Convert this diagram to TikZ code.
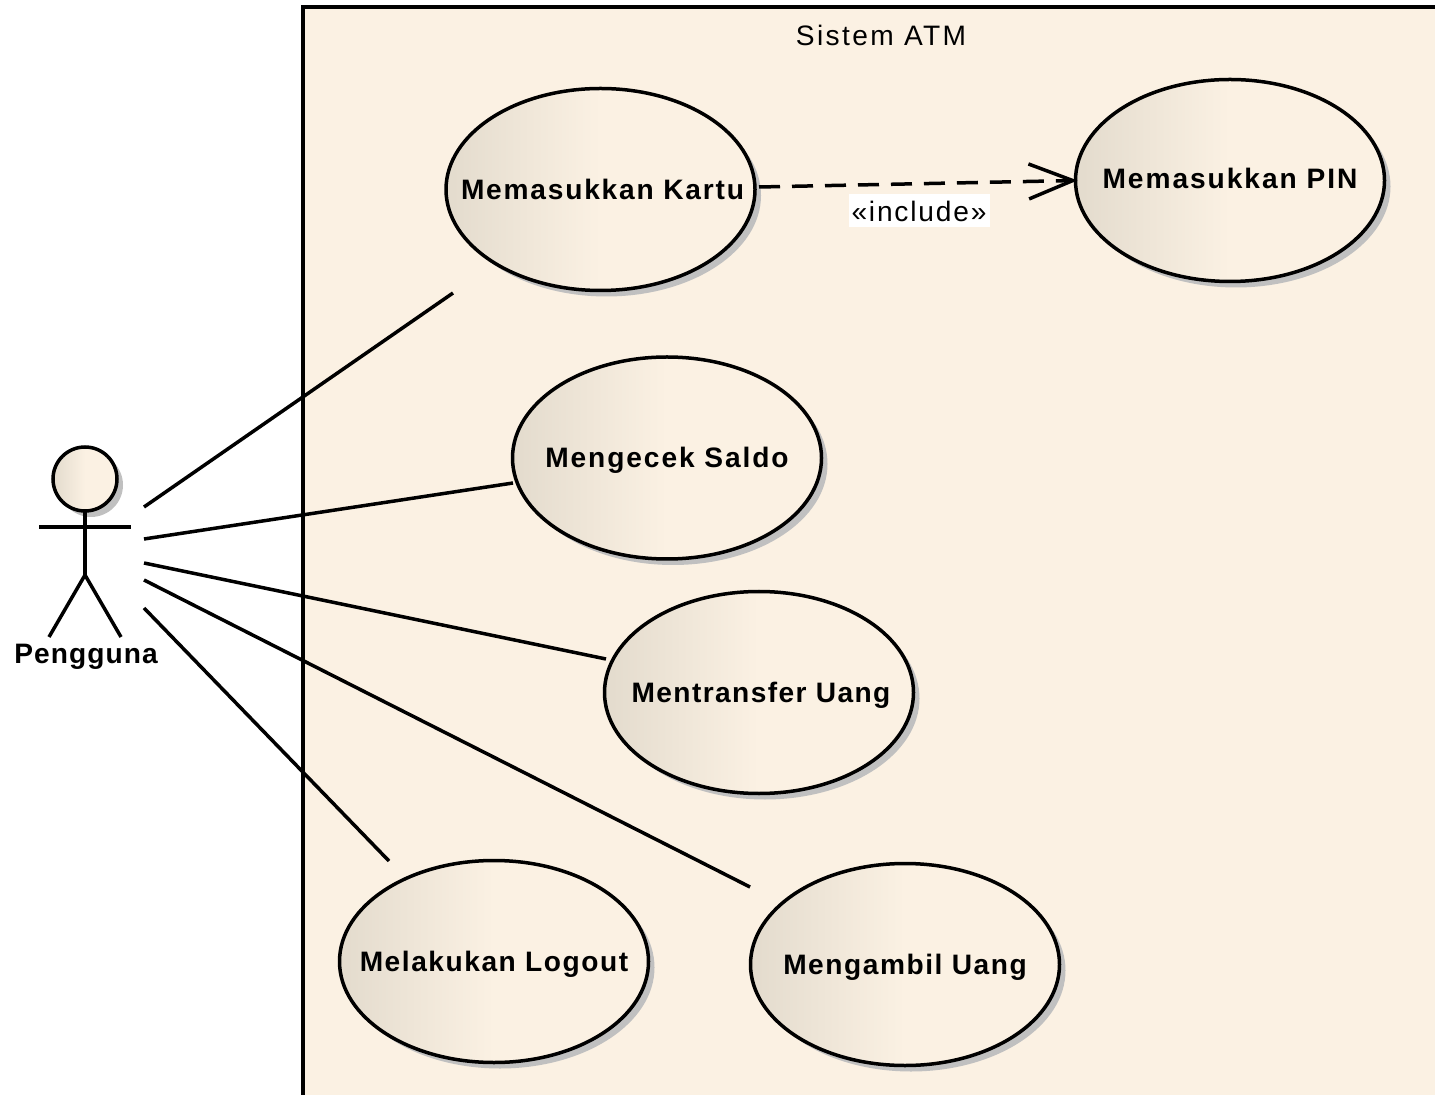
\documentclass[tikz,border=0pt]{standalone}
\usepackage{fontspec}
\setmainfont[LetterSpace=5.5]{Liberation Sans}
\usetikzlibrary{arrows.meta}
\usetikzlibrary{positioning}
\usetikzlibrary{shadows}
\usetikzlibrary{shapes}
\definecolor{ucfill}{HTML}{FBF1E3}
\definecolor{ucdark}{HTML}{E3DBCD}
\definecolor{ucshadow}{HTML}{C0C0C0}
\newcommand{\ucname}[2][5.5]{\makebox[0pt]{\addfontfeature{LetterSpace=#1}#2}}
\tikzset{
  every node/.style={font=\fontsize{8}{10}\selectfont},
  ucbase/.style={
    draw, line width=0.035cm, inner sep=0, outer sep=0,
    left color=ucdark, right color=ucfill, middle color=ucfill,
    drop shadow={shadow xshift=0.06cm, shadow yshift=-0.06cm, fill=ucshadow, opacity=1}
  },
  usecase/.style={
    ucbase, ellipse,
    minimum width=3.09cm, minimum height=2.02cm,
    text height=0.2cm, text depth=0cm,
    font=\fontsize{8}{10}\selectfont\bfseries
  },
  assoc/.style={line width=0.035cm},
  stick/.style={line width=0.035cm},
  include/.style={-{Straight Barb[length=0.44cm,width=0.35cm]}, line width=0.035cm,
    dash pattern=on 0.21cm off 0.12cm, shorten >=-0.02cm}
}
\begin{document}
\begin{tikzpicture}
  \useasboundingbox (0,0) rectangle (14.35,-10.95);
  \fill[ucfill] (3.03,-10.95) rectangle (14.35,-0.07);
  \draw[line width=0.035cm] (3.03,-10.95) |- (14.35,-0.07);
  \node (sistem) at (8.81,-0.35) {\addfontfeature{LetterSpace=8.5}Sistem ATM};

  \node[usecase] (kartu) at (6.005,-1.895) {\ucname[6.4]{\hspace*{0.04cm}Memasukkan Kartu}};
  \node[usecase] (pin) at (12.30,-1.805) {\ucname[7]{\raisebox{0.02cm}{Memasukkan PIN}}};
  \node[usecase] (saldo) at (6.67,-4.58) {\ucname[6.8]{Mengecek Saldo}};
  \node[usecase] (transfer) at (7.59,-6.925) {\ucname[5]{\hspace*{0.04cm}Mentransfer Uang}};
  \node[usecase] (logout) at (4.94,-9.615) {\ucname{Melakukan Logout}};
  \node[usecase] (ambil) at (9.05,-9.645) {\ucname{Mengambil Uang}};

  \node[ucbase, circle, minimum size=0.64cm] (head) at (0.85,-4.79) {};
  \coordinate (hip) at (0.85,-5.75);
  \coordinate (armL) at (0.39,-5.27);
  \coordinate (armR) at (1.31,-5.27);
  \coordinate (footL) at (0.49,-6.37);
  \coordinate (footR) at (1.21,-6.37);
  \draw[stick] (head.south) -- (hip);
  \draw[stick] (armL) -- (armR);
  \draw[stick] (footL) -- (hip) -- (footR);
  \node[font=\fontsize{8}{10}\selectfont\bfseries] (pengguna) at (0.86,-6.57) {\addfontfeature{LetterSpace=3.8}Pengguna};

  \coordinate (a1) at (1.44,-5.07);
  \coordinate (a2) at (1.44,-5.39);
  \coordinate (a3) at (1.44,-5.63);
  \coordinate (a4) at (1.44,-5.80);
  \coordinate (a5) at (1.44,-6.08);
  \coordinate (e1) at (4.53,-2.93);
  \coordinate (e2) at (5.13,-4.83);
  \coordinate (e3) at (6.06,-6.59);
  \coordinate (e4) at (7.50,-8.87);
  \coordinate (e5) at (3.89,-8.61);
  \draw[assoc] (a1) -- (e1);
  \draw[assoc] (a2) -- (e2);
  \draw[assoc] (a3) -- (e3);
  \draw[assoc] (a4) -- (e4);
  \draw[assoc] (a5) -- (e5);

  \coordinate (inc) at (7.59,-1.87);
  \draw[include] (inc) -- (pin.west);
  \node[fill=white, inner sep=0, minimum width=1.41cm, minimum height=0.33cm] (inclabel) at (9.19,-2.11) {\addfontfeature{LetterSpace=6.5}«include»};
\end{tikzpicture}
\end{document}
